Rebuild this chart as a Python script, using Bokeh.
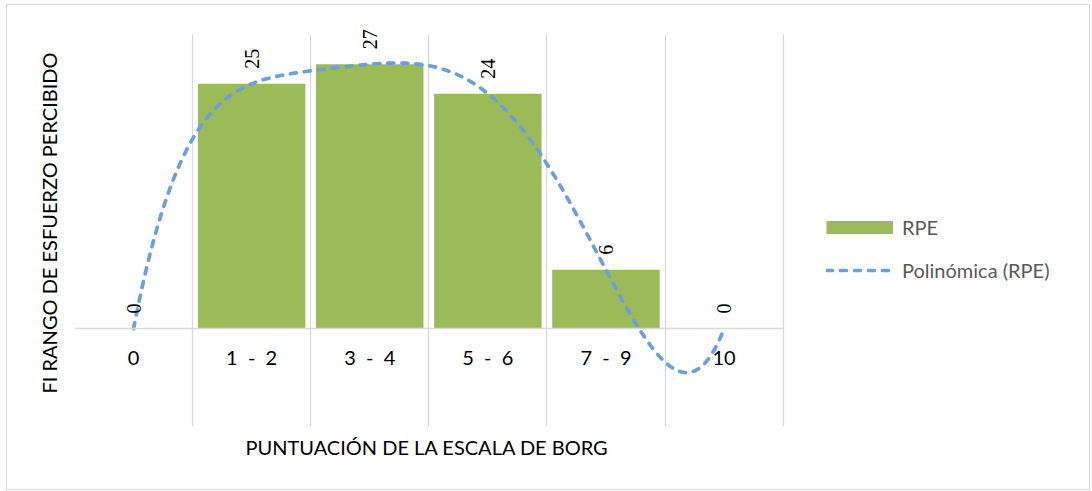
import numpy as np
from bokeh.plotting import figure
from bokeh.models import (ColumnDataSource, Range1d, FixedTicker, Legend, LegendItem,
                          Title, LabelSet)
from bokeh.embed import file_html
from bokeh.resources import INLINE

# ---- data ----
categories = ["0", "1 - 2", "3 - 4", "5 - 6", "7 - 9", "10"]
rpe_values = [0, 25, 27, 24, 6, 0]
trend_order = 5
series_name = "RPE"
trend_name = "Polinómica (RPE)"
x_title = "PUNTUACIÓN DE LA ESCALA DE BORG"
y_title = "FI RANGO DE ESFUERZO PERCIBIDO"
y_min, y_max = -10, 30

FONT = "Lato"
BAR_COLOR = "#9BBB59"
LINE_COLOR = "#6E9FDB"
GRID_COLOR = "#D9D9D9"

n = len(categories)
xpos = [i + 0.5 for i in range(n)]
src = ColumnDataSource(dict(x=xpos, top=rpe_values, cat=categories,
                            lbl=[str(v) for v in rpe_values]))

# polynomial trendline (Excel-style, on category index 1..n)
idx = np.arange(1, n + 1)
coef = np.polyfit(idx, rpe_values, trend_order)
tt = np.linspace(1, n, 300)
trend_src = ColumnDataSource(dict(x=tt - 0.5, y=np.polyval(coef, tt)))

# frame extends past the plot area to hold legend and labels
W, H = 1084, 486
left_b, top_b, bottom_b = 67, 14, 65
px_per_cat = 118.1
frame_h = H - top_b - bottom_b
px_per_unit = 9.79
x_end = (W - left_b) / px_per_cat
y_top = y_min + frame_h / px_per_unit

p = figure(width=W, height=H, output_backend="svg", toolbar_location=None,
           x_range=Range1d(0, x_end), y_range=Range1d(y_min, y_top),
           min_border_left=left_b, min_border_right=0, min_border_top=top_b,
           min_border_bottom=bottom_b)
p.styles = {"border": "1px solid #D9D9D9", "margin-left": "6px", "margin-top": "4px"}
p.outline_line_color = None
p.background_fill_color = "white"
p.border_fill_color = "white"

bars = p.vbar(x="x", top="top", width=0.91, source=src, fill_color=BAR_COLOR,
              line_color=None)
trend = p.line(x="x", y="y", source=trend_src, line_color=LINE_COLOR, line_width=3.7,
               line_dash="6 8", line_cap="round")
# legend swatch stand-in for the bars (full-width block like Excel's); drawn off-view
swatch = p.line(x=[-5, -4], y=[0, 0], line_color=BAR_COLOR, line_width=13,
                line_cap="butt")

labels = LabelSet(x="x", y="top", text="lbl", source=src, angle=np.pi / 2,
                  text_align="left", text_baseline="middle", y_offset=15,
                  text_font=FONT, text_font_size="20px", text_color="black")
p.add_layout(labels)

# grids: vertical at category boundaries
p.ygrid.visible = False
p.xgrid.ticker = FixedTicker(ticks=list(range(n + 1)))
p.xgrid.grid_line_color = GRID_COLOR
p.xgrid.grid_line_width = 1.3
p.xgrid.cross_bounds = (y_min, y_max)

# category axis crossing at zero
xa = p.xaxis[0]
xa.ticker = FixedTicker(ticks=xpos)
xa.bounds = (0, n)
xa.major_label_overrides = {x: c.replace(" ", "\u00a0 ") if "-" in c else c
                            for x, c in zip(xpos, categories)}
xa.fixed_location = 0
xa.axis_line_color = GRID_COLOR
xa.axis_line_width = 1.3
xa.major_tick_line_color = None
xa.minor_tick_line_color = None
xa.major_tick_out = 0
xa.major_tick_in = 0
xa.major_label_standoff = 16
xa.major_label_text_font = FONT
xa.major_label_text_font_size = "20px"
xa.major_label_text_color = "black"

ya = p.yaxis[0]
ya.ticker = FixedTicker(ticks=[])
ya.bounds = (y_min, y_max)
ya.axis_line_color = None
ya.major_tick_line_color = None
ya.minor_tick_line_color = None
ya.axis_label = y_title
ya.axis_label_text_font = FONT
ya.axis_label_text_font_size = "20px"
ya.axis_label_text_font_style = "normal"
ya.axis_label_text_color = "black"
ya.axis_label_standoff = 14

p.add_layout(Title(text=x_title, align="left", offset=171, standoff=13, text_font=FONT,
                   text_font_size="20px", text_font_style="normal",
                   text_color="black"), "below")

legend = Legend(items=[LegendItem(label=series_name, renderers=[swatch]),
                       LegendItem(label=trend_name, renderers=[trend])],
                location=(752, 144), orientation="vertical",
                glyph_width=67, glyph_height=14, label_standoff=9, spacing=19,
                padding=0, margin=0, border_line_color=None,
                background_fill_alpha=0, label_text_font=FONT,
                label_text_font_size="20px", label_text_color="#595959")
p.add_layout(legend, "center")

open("out.html", "w").write(file_html(p, INLINE))
